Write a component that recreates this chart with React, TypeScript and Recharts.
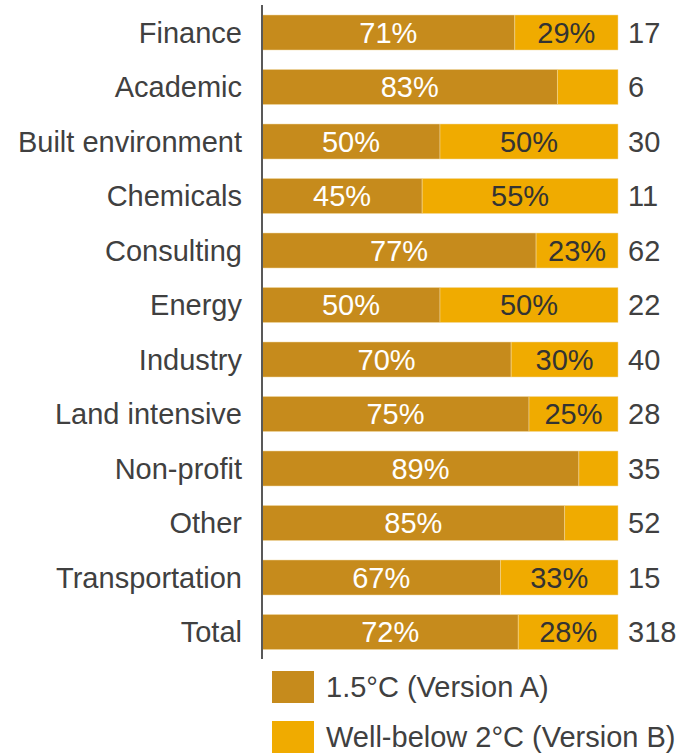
import { BarChart, Bar, XAxis, YAxis, LabelList } from 'recharts';

const categories = [
  'Finance',
  'Academic',
  'Built environment',
  'Chemicals',
  'Consulting',
  'Energy',
  'Industry',
  'Land intensive',
  'Non-profit',
  'Other',
  'Transportation',
  'Total',
];
const versionA = [71, 83, 50, 45, 77, 50, 70, 75, 89, 85, 67, 72];
const versionB = [29, 17, 50, 55, 23, 50, 30, 25, 11, 15, 33, 28];
const counts = [17, 6, 30, 11, 62, 22, 40, 28, 35, 52, 15, 318];

const seriesNames = ['1.5°C (Version A)', 'Well-below 2°C (Version B)'];
const colorA = '#C68B1C';
const colorB = '#F0AB00';
const textColor = '#404040';
const font = '"Liberation Sans", Arial, sans-serif';
const fontSize = 29;

const data = categories.map((name, i) => ({
  name,
  a: versionA[i],
  b: versionB[i],
  n: counts[i],
}));

const pctLabel = (fill: string) => (props: any) => {
  const { x, y, width, height, value } = props;
  if (value < 20) return null;
  return (
    <text
      x={x + width / 2}
      y={y + height / 2}
      textAnchor="middle"
      dominantBaseline="central"
      fill={fill}
      fontSize={fontSize}
      fontFamily={font}
    >
      {value}%
    </text>
  );
};

const countLabel = (props: any) => {
  const { x, y, width, height, value } = props;
  return (
    <text
      x={x + width + 10}
      y={y + height / 2}
      textAnchor="start"
      dominantBaseline="central"
      fill={textColor}
      fontSize={fontSize}
      fontFamily={font}
    >
      {value}
    </text>
  );
};

export default function App() {
  return (
    <div style={{ position: 'absolute', left: 0, top: 0, width: 679, height: 755, overflow: 'hidden', background: '#fff' }}>
      <BarChart
        width={679}
        height={660}
        data={data}
        layout="vertical"
        margin={{ top: 5, right: 61, bottom: 1, left: 0 }}
        barSize={35}
      >
        <XAxis type="number" domain={[0, 100]} hide />
        <YAxis
          type="category"
          dataKey="name"
          width={262}
          tickLine={false}
          tickSize={0}
          tickMargin={20}
          axisLine={{ stroke: '#595959', strokeWidth: 2 }}
          tick={{ fill: textColor, fontSize, fontFamily: font }}
          interval={0}
        />
        <Bar dataKey="a" stackId="s" fill={colorA} stroke="#F3D9A0" strokeWidth={0.5} isAnimationActive={false}>
          <LabelList dataKey="a" content={pctLabel('#ffffff')} />
        </Bar>
        <Bar dataKey="b" stackId="s" fill={colorB} stroke="#F3D9A0" strokeWidth={0.5} isAnimationActive={false}>
          <LabelList dataKey="b" content={pctLabel('#333333')} />
          <LabelList dataKey="n" content={countLabel} />
        </Bar>
      </BarChart>
      <div style={{ position: 'absolute', left: 272, top: 671, fontFamily: font, fontSize, color: textColor }}>
        {seriesNames.map((s, i) => (
          <div key={s} style={{ display: 'flex', alignItems: 'center', height: 32, marginBottom: 18, whiteSpace: 'nowrap' }}>
            <div style={{ width: 42, height: 32, background: i === 0 ? colorA : colorB, marginRight: 12 }} />
            <span>{s}</span>
          </div>
        ))}
      </div>
    </div>
  );
}
